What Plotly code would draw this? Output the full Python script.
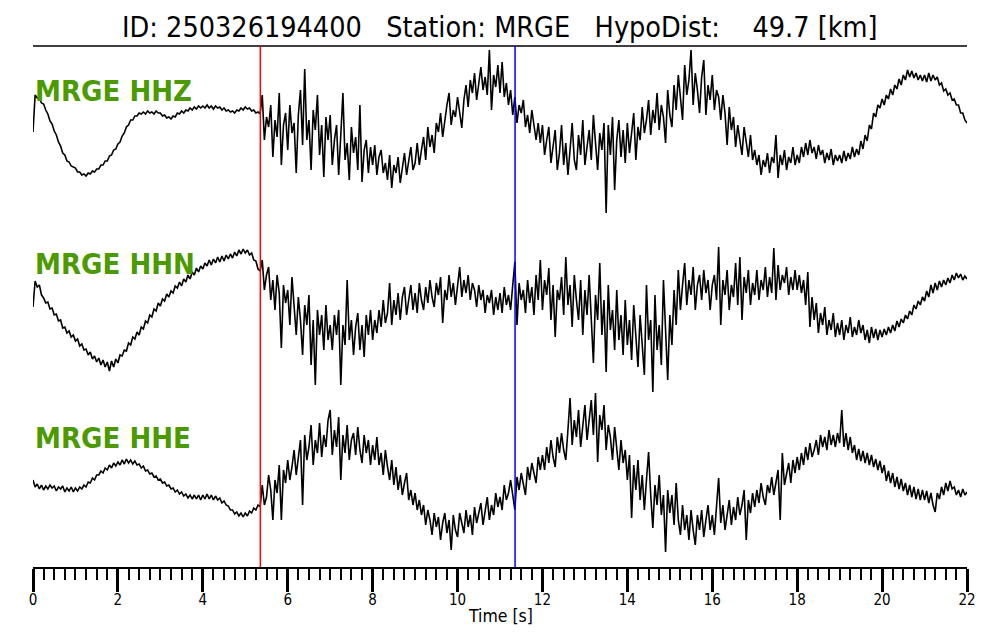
import plotly.graph_objects as go

# ---------------- data ----------------
dt = 0.05                      # sample interval [s]
p_pick = 5.355                 # red marker [s]
s_pick = 11.355                # blue marker [s]
station = "MRGE"
channels = ["HHZ", "HHN", "HHE"]
title_text = "ID: 250326194400   Station: MRGE   HypoDist:    49.7 [km]"
xtick_vals = [0, 2, 4, 6, 8, 10, 12, 14, 16, 18, 20, 22]

hhz = [
    3, 40, 37, 37, 32, 31, 25, 21, 14, 11, 4, 0, -7, -11, -18, -20, -26, -27, -31, -32,
    -33, -37, -37, -40, -39, -41, -38, -39, -36, -37, -34, -34, -30, -30, -26, -26, -21, -20, -15, -14,
    -9, -7, -1, 2, 8, 10, 15, 15, 19, 19, 22, 21, 23, 21, 24, 22, 23, 21, 24, 22,
    22, 19, 20, 17, 18, 16, 19, 18, 22, 21, 24, 22, 25, 24, 27, 25, 28, 26, 29, 27,
    29, 27, 30, 27, 29, 26, 29, 27, 28, 25, 27, 24, 25, 23, 24, 22, 25, 24, 27, 25,
    28, 26, 27, 24, 25, 22, 23, 21, 40, -5, 18, 8, 30, -22, 15, -2, 42, -30, 10, 22,
    -15, 30, 2, 12, -38, 20, 45, -10, 66, -5, 15, -35, 25, 5, 40, -20, 10, -42, 18, -5,
    20, -30, -5, 10, -40, 0, 42, -25, -8, -45, 8, -18, -2, -35, 30, -47, -15, -5, -38, -12,
    -30, -10, -40, -22, -15, -38, -28, -45, -20, -53, -30, -38, -22, -48, -30, -18, -40, -25, -12, -35,
    -28, -8, -30, -15, -2, -25, 8, -12, 0, -18, 12, 3, 22, -2, 15, 30, 42, 10, 25, 18,
    38, 20, 7, 35, 50, 28, 55, 42, 62, 35, 50, 68, 45, 58, 40, 85, 25, 60, 48, 70,
    42, 73, 38, 52, 30, 45, 20, 38, 12, 30, 22, 35, 8, 20, 2, 25, 10, -5, 12, -8,
    10, -20, -5, 8, -28, -12, 5, -35, -18, 10, -30, -8, -40, -15, 12, -25, -35, 0, -20, 15,
    -30, -12, 5, -25, 20, -8, -35, 2, -15, 12, -78, 10, -20, 18, -55, -5, 15, -22, 5, -28,
    12, -18, 5, 22, -25, 8, -5, 28, 2, 15, 35, 0, 25, 12, 42, 5, 30, 18, -8, 45,
    20, 8, 50, 25, 60, 35, 15, 70, 40, 55, 85, 30, 62, 45, 22, 58, 75, 20, 50, 35,
    60, 25, 45, 38, 15, 40, 22, -10, 28, 5, 18, -12, 10, -5, -20, 8, -8, -22, 0, -25,
    -15, -30, -20, -40, -25, -32, -18, -38, -22, -28, 0, -43, -20, -30, -15, -35, -22, -28, -12, -30,
    -20, -28, -12, -22, -8, -20, -5, -18, -12, -24, -10, -20, -15, -28, -18, -25, -14, -30, -20, -26,
    -20, -28, -16, -26, -18, -24, -12, -22, -14, -20, -6, -14, 0, -6, 10, 6, 22, 18, 30, 27,
    36, 30, 40, 36, 46, 40, 50, 46, 56, 50, 60, 55, 65, 58, 64, 57, 62, 55, 60, 54,
    60, 53, 62, 54, 60, 55, 58, 50, 52, 44, 46, 40, 42, 35, 36, 30, 30, 22, 22, 15,
    12,
]

hhn = [
    -2, 24, 18, 20, 10, 7, 2, 3, -4, -3, -10, -9, -16, -15, -23, -22, -28, -26, -32, -30,
    -36, -34, -41, -39, -45, -44, -50, -47, -54, -51, -57, -53, -60, -55, -62, -57, -66, -56, -62, -54,
    -58, -50, -51, -45, -46, -38, -40, -32, -34, -27, -30, -22, -24, -16, -18, -10, -12, -4, -6, 2,
    -1, 6, 4, 11, 8, 14, 12, 19, 17, 23, 19, 26, 23, 30, 26, 33, 30, 37, 33, 39,
    36, 42, 39, 45, 40, 46, 42, 48, 43, 49, 44, 50, 46, 51, 47, 53, 49, 55, 51, 56,
    52, 55, 50, 52, 45, 44, 36, 34, 45, 15, 30, 38, 5, 25, -5, 30, 12, -43, 20, 2,
    15, -20, 28, -5, -30, 8, -15, -50, 0, -20, 10, -60, -15, -80, -5, -30, -10, -45, 0, -35,
    -20, -45, -10, -30, -5, -80, -20, -40, 25, -35, -15, -50, -22, -8, -45, -20, -52, -10, -30, -5,
    -35, -15, -28, -5, -22, 5, -18, -8, 22, -20, 5, -10, 12, -15, 8, 18, -10, 5, 20, -5,
    12, -8, 22, 5, -5, 18, 2, 25, 8, -2, 22, 10, 28, -18, 15, 5, 30, 8, 22, 0,
    20, 38, 8, 25, 12, 30, 5, 22, 15, -2, 20, 5, 15, -8, 10, 2, 15, -10, 8, -5,
    12, -8, 18, 0, 10, -5, 20, 43, -20, 22, 5, 15, -8, 25, 2, 18, -10, 30, 5, 45,
    -5, 25, 10, 37, -15, 20, -32, 15, 5, 28, -10, 48, 0, 20, -22, 30, 5, -15, 25, -30,
    15, -10, 30, -20, -58, 10, -15, 42, -30, 5, -67, 20, -25, -5, -45, 15, -35, -10, -50, 5,
    -40, -15, -55, 0, -30, -62, -10, -40, -70, 20, -35, -15, -87, 10, -45, -20, -60, 25, -30, -75,
    -10, -40, 15, -20, 35, -5, 20, 42, 0, 25, 10, 38, -5, 20, 30, 5, 35, 12, 25, -5,
    20, 30, 5, 58, -20, 25, 10, 35, -5, 20, 8, 42, 0, 48, -15, 28, 12, 35, 0, 22,
    10, 35, 5, 25, 15, 38, 8, 28, 12, 57, 5, 40, 15, 30, 22, 38, 10, 28, 15, 35,
    15, 30, 12, 25, 0, 33, -22, 8, -15, 2, -28, -8, -20, -2, -30, -15, -25, -8, -32, -18,
    -30, -15, -35, -20, -28, -12, -32, -22, -30, -15, -28, -20, -35, -25, -38, -22, -33, -24, -35, -25,
    -32, -24, -30, -22, -28, -20, -26, -16, -22, -14, -18, -10, -14, -6, -10, 0, -4, 4, 0, 8,
    4, 14, 8, 20, 12, 22, 15, 24, 18, 25, 20, 27, 22, 30, 25, 32, 27, 31, 25, 29,
    26,
]

hhe = [
    -5, -12, -9, -14, -10, -15, -11, -14, -10, -13, -11, -16, -12, -14, -11, -17, -13, -16, -12, -17,
    -13, -16, -12, -14, -10, -12, -7, -8, -3, -5, 0, 0, 4, 2, 7, 5, 10, 7, 12, 9,
    13, 10, 15, 11, 16, 12, 15, 11, 14, 10, 11, 7, 9, 4, 5, 1, 2, -2, -1, -5,
    -4, -8, -7, -11, -10, -14, -13, -17, -15, -19, -17, -21, -19, -23, -20, -24, -20, -24, -20, -25,
    -20, -24, -19, -24, -20, -25, -21, -25, -23, -28, -26, -30, -31, -35, -35, -39, -37, -41, -38, -42,
    -38, -41, -36, -38, -33, -35, -30, -32, -10, -30, -22, 0, -15, -45, -5, -18, 10, -45, 5, -8,
    15, -5, 8, 25, 0, 18, 35, -30, 40, 15, 28, 50, 10, 35, 22, 52, 18, 40, 28, 55,
    65, 20, 45, 28, 58, -5, 40, 22, 50, 15, 35, 42, 20, 48, 25, 12, 40, 22, 35, 10,
    30, 15, 38, 10, 22, 0, 25, 8, -5, 15, -10, 8, -15, 0, -20, -8, 2, -25, -15, -30,
    -18, -35, -25, -40, -30, -50, -35, -45, -60, -38, -52, -42, -65, -48, -38, -58, -45, -75, -40, -55,
    -62, -38, -50, -58, -35, -52, -40, -60, -32, -48, -38, -28, -50, -35, -22, -45, -30, -40, -18, -32,
    -22, -35, -10, -25, -18, -5, -20, -35, -2, -15, 2, -10, -20, 8, -5, 12, 2, -8, 18, 5,
    20, 5, 28, 12, 35, 18, 8, 38, 22, 42, 25, 15, 45, 77, 30, 55, 38, 65, 28, 50,
    70, 35, 55, 75, 40, 82, 13, 60, 45, 70, 25, 50, 38, 15, 48, 25, 5, 35, 12, 25,
    -5, 20, -43, 10, -15, 15, -25, 0, -35, -5, 23, -20, -53, -10, -30, 0, -40, -20, -77, -15,
    -38, -20, -50, -8, -45, -60, -30, -55, -40, -65, -35, -55, -70, -40, -55, -35, -62, -45, -30, -55,
    -40, -60, -35, -3, -48, -30, -55, -38, -25, -50, -32, -45, -22, -40, -30, -15, -65, -25, -38, -18,
    -32, -15, -28, -8, -22, -30, -10, -18, -2, -20, -8, 5, -45, 22, -10, 0, 12, -8, 15, 2,
    18, 5, 22, 10, 28, 15, 32, 18, 25, 35, 20, 40, 28, 38, 25, 45, 30, 40, 28, 42,
    32, 65, 28, 42, 25, 38, 22, 30, 15, 26, 14, 24, 12, 22, 10, 20, 8, 16, 5, 14,
    2, 10, -6, 4, -8, 2, -12, -2, -14, -4, -16, -8, -20, -10, -22, -12, -24, -14, -25, -15,
    -25, -16, -28, -18, -30, -37, -18, -24, -12, -20, -8, -16, -6, -14, -12, -20, -15, -22, -14, -20,
    -17,
]

# ---------------- layout constants ----------------
W, H = 1000, 640
ML, MR, MT, MB = 33, 33, 46, 73
PLOT_H = H - MT - MB                 # 521 px; y axis in px units
offsets = [432, 262, 92]             # vertical placement of each trace
label_y = [476, 303, 129]
FONT = "DejaVu Sans Condensed, Liberation Sans Narrow, DejaVu Sans, sans-serif"
GREEN = "#4a9a00"

fig = go.Figure()
for vals, off in zip([hhz, hhn, hhe], offsets):
    tt = [round(i * dt, 3) for i in range(len(vals))]
    fig.add_trace(go.Scatter(
        x=tt, y=[v + off for v in vals], mode="lines",
        line=dict(color="black", width=1.6), hoverinfo="skip", showlegend=False,
    ))

for ch, ly in zip(channels, label_y):
    fig.add_annotation(
        x=0, xref="paper", y=ly, yref="y", text=f"<b>{station} {ch}</b>",
        showarrow=False, xanchor="left", yanchor="middle",
        font=dict(family=FONT, size=29, color=GREEN),
    )

fig.add_annotation(
    x=0.5, xref="paper", y=(H - MB - 27) / PLOT_H, yref="paper",
    text=title_text.replace(" ", "\u00a0"), showarrow=False,
    xanchor="center", yanchor="middle",
    font=dict(family=FONT, size=28.5, color="black"),
)
fig.add_annotation(
    x=0.5, xref="paper", y=(H - MB - 616) / PLOT_H, yref="paper",
    text="Time [s]", showarrow=False, xanchor="center", yanchor="middle",
    font=dict(family=FONT, size=17.5, color="black"),
)

fig.add_shape(type="line", xref="paper", yref="paper", x0=0, x1=1, y0=1, y1=1,
              line=dict(color="black", width=1.5))
fig.add_shape(type="line", xref="x", yref="paper", x0=p_pick, x1=p_pick, y0=0, y1=1,
              line=dict(color="red", width=1.5))
fig.add_shape(type="line", xref="x", yref="paper", x0=s_pick, x1=s_pick, y0=0, y1=1,
              line=dict(color="blue", width=1.5))

fig.update_layout(
    width=W, height=H, margin=dict(l=ML, r=MR, t=MT, b=MB, pad=0),
    paper_bgcolor="white", plot_bgcolor="white", showlegend=False,
    xaxis=dict(
        range=[0, 22], showgrid=False, zeroline=False,
        showline=True, linecolor="black", linewidth=2,
        tickmode="array", tickvals=xtick_vals, ticktext=[str(v) for v in xtick_vals],
        ticks="outside", ticklen=23, tickwidth=2.5, tickcolor="black",
        ticklabelstandoff=-5,
        tickfont=dict(family=FONT, size=15, color="black"),
        minor=dict(dtick=0.25, tick0=0, ticks="outside", ticklen=11, tickwidth=2,
                   tickcolor="black", showgrid=False),
        fixedrange=True,
    ),
    yaxis=dict(range=[0, PLOT_H], visible=False, fixedrange=True),
)

fig.write_html("out.html", config={"displayModeBar": False},
               post_script="document.body.style.margin='0';")
